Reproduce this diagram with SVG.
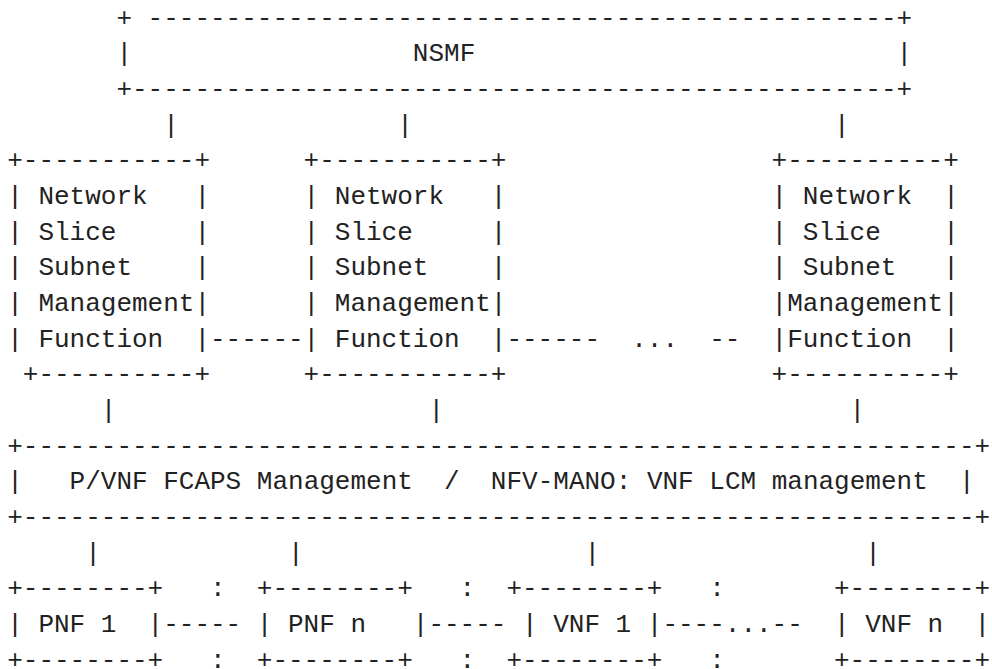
<svg xmlns="http://www.w3.org/2000/svg" width="992" height="669" viewBox="0 0 992 669">
<style>
text{font-family:"Liberation Mono","DejaVu Sans Mono",monospace;font-size:26px;fill:#222;white-space:pre}
</style>
<rect width="992" height="669" fill="#fff"/>
<g id="nsmf" xml:space="preserve">
<text x="116.4" y="25.7">+ ------------------------------------------------+</text>
<text x="116.4" y="61.37">|                  NSMF                           |</text>
<text x="116.4" y="97.04">+-------------------------------------------------+</text>
</g>
<g id="nssmf1" xml:space="preserve">
<text x="7.2" y="168.38">+-----------+</text>
<text x="7.2" y="204.05">| Network   |</text>
<text x="7.2" y="239.72">| Slice     |</text>
<text x="7.2" y="275.39">| Subnet    |</text>
<text x="7.2" y="311.06">| Management|</text>
<text x="7.2" y="346.73">| Function  |</text>
<text x="7.2" y="382.4"> +----------+</text>
</g>
<g id="nssmf2" xml:space="preserve">
<text x="303.6" y="168.38">+-----------+</text>
<text x="303.6" y="204.05">| Network   |</text>
<text x="303.6" y="239.72">| Slice     |</text>
<text x="303.6" y="275.39">| Subnet    |</text>
<text x="303.6" y="311.06">| Management|</text>
<text x="303.6" y="346.73">| Function  |</text>
<text x="303.6" y="382.4">+-----------+</text>
</g>
<g id="nssmf3" xml:space="preserve">
<text x="771.6" y="168.38">+----------+</text>
<text x="771.6" y="204.05">| Network  |</text>
<text x="771.6" y="239.72">| Slice    |</text>
<text x="771.6" y="275.39">| Subnet   |</text>
<text x="771.6" y="311.06">|Management|</text>
<text x="771.6" y="346.73">|Function  |</text>
<text x="771.6" y="382.4">+----------+</text>
</g>
<g id="mgmt" xml:space="preserve">
<text x="7.2" y="453.74">+-------------------------------------------------------------+</text>
<text x="7.2" y="489.41">|   P/VNF FCAPS Management  /  NFV-MANO: VNF LCM management  |</text>
<text x="7.2" y="525.08">+-------------------------------------------------------------+</text>
</g>
<g id="pnf1" xml:space="preserve">
<text x="7.2" y="596.42">+--------+</text>
<text x="7.2" y="632.09">| PNF 1  |</text>
<text x="7.2" y="667.76">+--------+</text>
</g>
<g id="pnfn" xml:space="preserve">
<text x="256.8" y="596.42">+--------+</text>
<text x="256.8" y="632.09">| PNF n   |</text>
<text x="256.8" y="667.76">+--------+</text>
</g>
<g id="vnf1" xml:space="preserve">
<text x="506.4" y="596.42">+--------+</text>
<text x="522" y="632.09">| VNF 1 |</text>
<text x="506.4" y="667.76">+--------+</text>
</g>
<g id="vnfn" xml:space="preserve">
<text x="834" y="596.42">+--------+</text>
<text x="834" y="632.09">| VNF n  |</text>
<text x="834" y="667.76">+--------+</text>
</g>
<g id="connectors" xml:space="preserve">
<text x="163.2" y="132.71">|</text>
<text x="397.2" y="132.71">|</text>
<text x="834" y="132.71">|</text>
<text x="210" y="346.73">------</text>
<text x="506.4" y="346.73">------  ...  --</text>
<text x="100.8" y="418.07">|</text>
<text x="428.4" y="418.07">|</text>
<text x="849.6" y="418.07">|</text>
<text x="85.2" y="560.75">|</text>
<text x="288" y="560.75">|</text>
<text x="584.4" y="560.75">|</text>
<text x="865.2" y="560.75">|</text>
<text x="210" y="596.42">:</text>
<text x="459.6" y="596.42">:</text>
<text x="709.2" y="596.42">:</text>
<text x="163.2" y="632.09">-----</text>
<text x="428.4" y="632.09">-----</text>
<text x="662.4" y="632.09">----...--</text>
<text x="210" y="667.76">:</text>
<text x="459.6" y="667.76">:</text>
<text x="709.2" y="667.76">:</text>
</g>
</svg>
